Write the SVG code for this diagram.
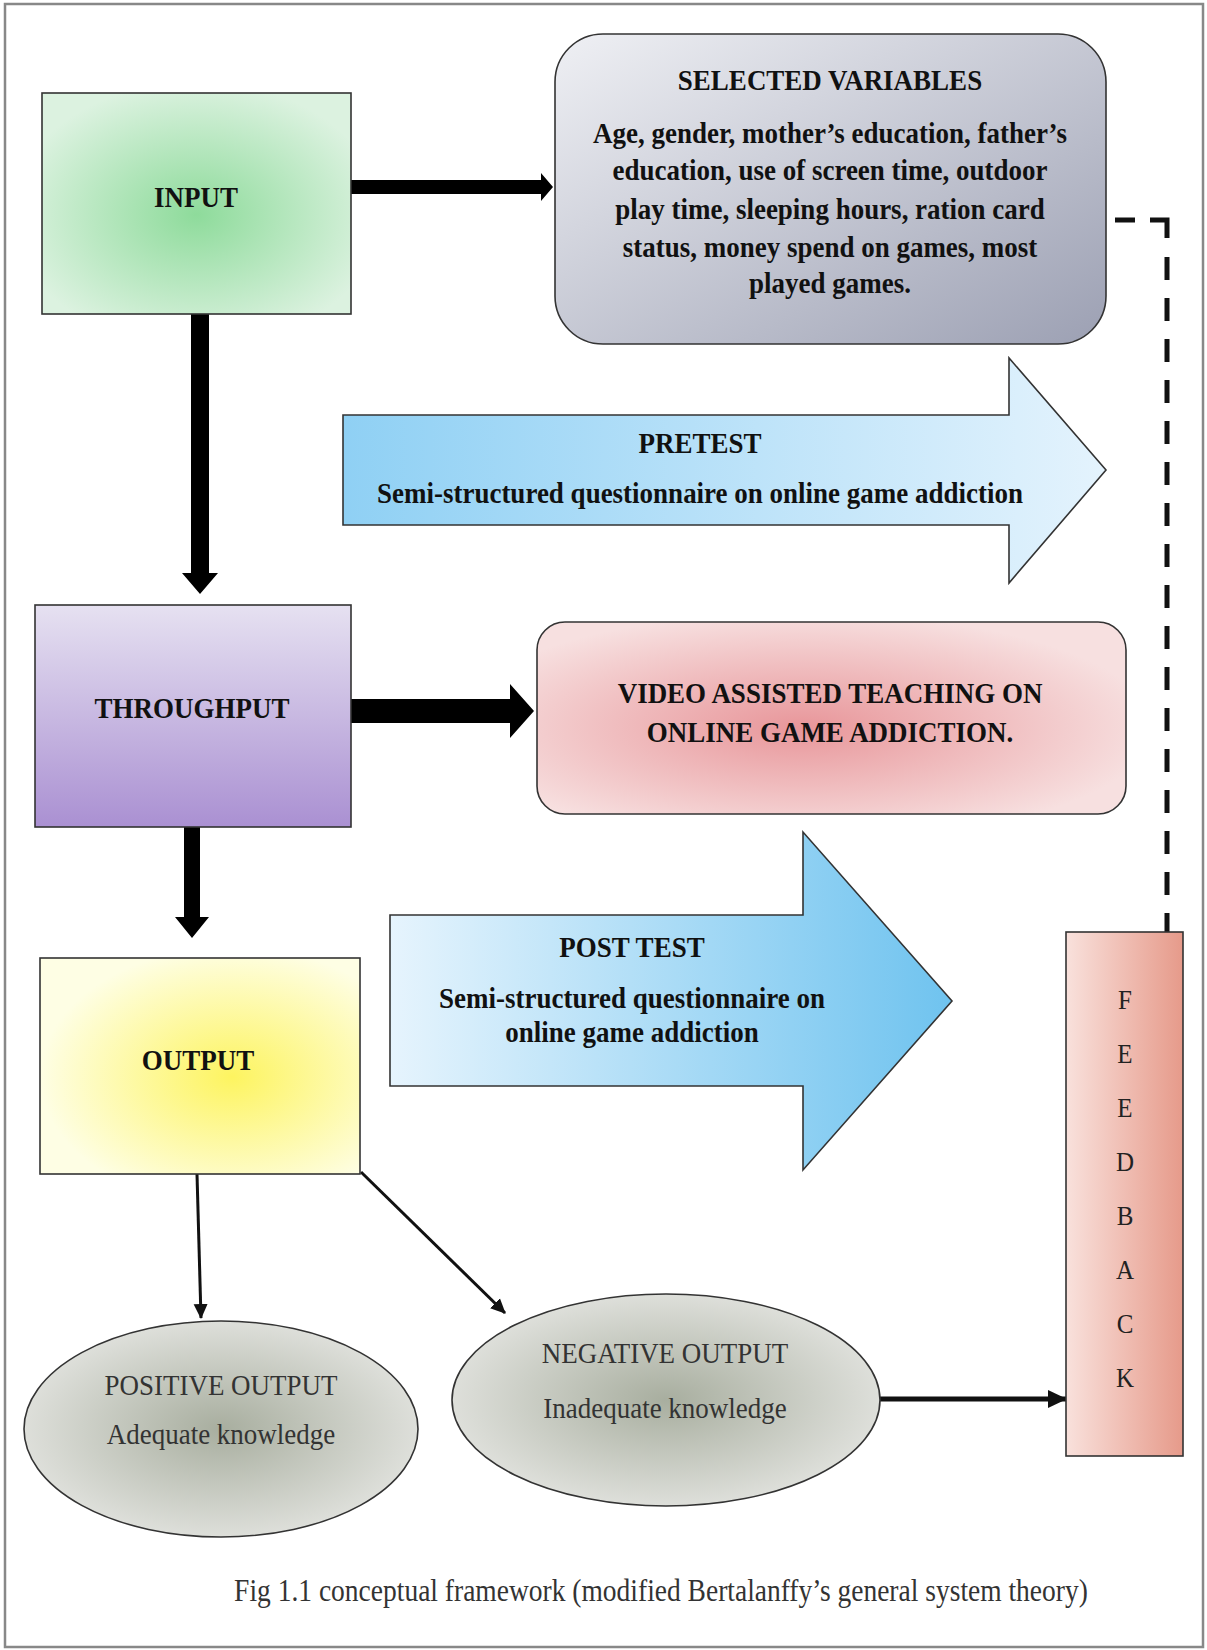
<svg xmlns="http://www.w3.org/2000/svg" width="1207" height="1650" viewBox="0 0 1207 1650">
<style>
.b{font-family:"Liberation Serif","Times New Roman",serif;font-weight:bold;font-size:27px;fill:#111;text-anchor:middle}
.r{font-family:"Liberation Serif","Times New Roman",serif;font-size:27px;fill:#333;text-anchor:middle}
.c{font-family:"Liberation Serif","Times New Roman",serif;font-size:27.5px;fill:#333;text-anchor:middle}
.f{font-family:"Liberation Serif","Times New Roman",serif;font-size:25px;fill:#222;text-anchor:middle}
.box{stroke:#333;stroke-width:1.6}
.thin{stroke:#111;stroke-width:3;fill:none}
.dash{stroke:#111;stroke-width:5;fill:none}
</style>
<defs>
<radialGradient id="gIn" cx="0.5" cy="0.55" r="0.6"><stop offset="0" stop-color="#8edb9b"/><stop offset="1" stop-color="#dcf2e0"/></radialGradient>
<linearGradient id="gSel" x1="0" y1="0" x2="1" y2="1"><stop offset="0" stop-color="#eff0f4"/><stop offset="1" stop-color="#9ca0b3"/></linearGradient>
<linearGradient id="gThr" x1="0" y1="0" x2="0" y2="1"><stop offset="0" stop-color="#e6e1f1"/><stop offset="1" stop-color="#aa90d2"/></linearGradient>
<radialGradient id="gVid" cx="0.45" cy="0.55" r="0.6"><stop offset="0" stop-color="#e8969a"/><stop offset="1" stop-color="#f7e0e0"/></radialGradient>
<radialGradient id="gOut" cx="0.6" cy="0.55" r="0.6"><stop offset="0" stop-color="#fdf460"/><stop offset="1" stop-color="#fefee4"/></radialGradient>
<linearGradient id="gPre" x1="0" y1="0" x2="1" y2="0"><stop offset="0" stop-color="#8fd0f4"/><stop offset="1" stop-color="#e4f3fd"/></linearGradient>
<linearGradient id="gPost" x1="0" y1="0" x2="1" y2="0"><stop offset="0" stop-color="#e6f4fd"/><stop offset="1" stop-color="#6fc3ef"/></linearGradient>
<radialGradient id="gEll" cx="0.5" cy="0.5" r="0.55"><stop offset="0" stop-color="#a8ae9f"/><stop offset="1" stop-color="#e3e4e0"/></radialGradient>
<linearGradient id="gFb" x1="0" y1="0" x2="1" y2="0"><stop offset="0" stop-color="#f9e1dc"/><stop offset="1" stop-color="#e69a8a"/></linearGradient>
<marker id="ah" markerUnits="userSpaceOnUse" markerWidth="16" markerHeight="16" refX="14" refY="8" orient="auto"><path d="M0,1 L15,8 L0,15 Z" fill="#111"/></marker>
<marker id="ah2" markerUnits="userSpaceOnUse" markerWidth="20" markerHeight="20" refX="18" refY="10" orient="auto"><path d="M0,1 L19,10 L0,19 Z" fill="#111"/></marker>
</defs>
<rect x="0" y="0" width="1207" height="1650" fill="#fff"/>
<rect x="5" y="4" width="1198" height="1643" fill="none" stroke="#888" stroke-width="2.5"/>

<g id="connectors">
<polygon points="351,180 541,180 541,173 553,187 541,201 541,194 351,194" fill="#000"/>
<polygon points="191,314 209,314 209,573 218,573 200,594 182,573 191,573" fill="#000"/>
<polygon points="351,699 510,699 510,684 534,711 510,738 510,723 351,723" fill="#000"/>
<polygon points="184,827 200,827 200,917 209,917 192,938 175,917 184,917" fill="#000"/>
<line class="thin" x1="197" y1="1174" x2="201" y2="1318" marker-end="url(#ah)"/>
<line class="thin" x1="361" y1="1172" x2="505" y2="1313" marker-end="url(#ah)"/>
<line x1="880" y1="1399" x2="1066" y2="1399" stroke="#111" stroke-width="5" marker-end="url(#ah2)"/>
<path class="dash" d="M1115,220 H1135"/>
<path class="dash" d="M1150,220 H1167 V238"/>
<path class="dash" d="M1167,257 V932" stroke-dasharray="23 18"/>
</g>

<g id="input">
<rect class="box" x="42" y="93" width="309" height="221" fill="url(#gIn)"/>
<text class="b" transform="translate(196,207) scale(1,1.12)">INPUT</text>
</g>

<g id="selected-variables">
<rect class="box" x="555" y="34" width="551" height="310" rx="48" fill="url(#gSel)"/>
<text class="b" transform="translate(830,90) scale(1,1.12)">SELECTED VARIABLES</text>
<text class="b" transform="translate(830,143) scale(1,1.12)">Age, gender, mother’s education, father’s</text>
<text class="b" transform="translate(830,180) scale(1,1.12)">education, use of screen time, outdoor</text>
<text class="b" transform="translate(830,219) scale(1,1.12)">play time, sleeping hours, ration card</text>
<text class="b" transform="translate(830,257) scale(1,1.12)">status, money spend on games, most</text>
<text class="b" transform="translate(830,293) scale(1,1.12)">played games.</text>
</g>

<g id="pretest">
<polygon class="box" points="343,415 1009,415 1009,358 1106,470 1009,583 1009,525 343,525" fill="url(#gPre)"/>
<text class="b" transform="translate(700,453) scale(1,1.12)">PRETEST</text>
<text class="b" transform="translate(700,503) scale(1,1.12)">Semi-structured questionnaire on online game addiction</text>
</g>

<g id="throughput">
<rect class="box" x="35" y="605" width="316" height="222" fill="url(#gThr)"/>
<text class="b" transform="translate(192,718) scale(1,1.12)">THROUGHPUT</text>
</g>

<g id="video">
<rect class="box" x="537" y="622" width="589" height="192" rx="28" fill="url(#gVid)"/>
<text class="b" transform="translate(830,703) scale(1,1.12)">VIDEO ASSISTED TEACHING ON</text>
<text class="b" transform="translate(830,742) scale(1,1.12)">ONLINE GAME ADDICTION.</text>
</g>

<g id="posttest">
<polygon class="box" points="390,915 803,915 803,832 952,1001 803,1170 803,1086 390,1086" fill="url(#gPost)"/>
<text class="b" transform="translate(632,957) scale(1,1.12)">POST TEST</text>
<text class="b" transform="translate(632,1008) scale(1,1.12)">Semi-structured questionnaire on</text>
<text class="b" transform="translate(632,1042) scale(1,1.12)">online game addiction</text>
</g>

<g id="output">
<rect class="box" x="40" y="958" width="320" height="216" fill="url(#gOut)"/>
<text class="b" transform="translate(198,1070) scale(1,1.12)">OUTPUT</text>
</g>

<g id="positive-output">
<ellipse class="box" cx="221" cy="1429" rx="197" ry="108" fill="url(#gEll)"/>
<text class="r" transform="translate(221,1395) scale(1,1.12)">POSITIVE OUTPUT</text>
<text class="r" transform="translate(221,1444) scale(1,1.12)">Adequate knowledge</text>
</g>

<g id="negative-output">
<ellipse class="box" cx="666" cy="1400" rx="214" ry="106" fill="url(#gEll)"/>
<text class="r" transform="translate(665,1363) scale(1,1.12)">NEGATIVE OUTPUT</text>
<text class="r" transform="translate(665,1418) scale(1,1.12)">Inadequate knowledge</text>
</g>

<g id="feedback">
<rect class="box" x="1066" y="932" width="117" height="524" fill="url(#gFb)"/>
<text class="f" transform="translate(1125,1009) scale(1,1.1)">F</text>
<text class="f" transform="translate(1125,1063) scale(1,1.1)">E</text>
<text class="f" transform="translate(1125,1117) scale(1,1.1)">E</text>
<text class="f" transform="translate(1125,1171) scale(1,1.1)">D</text>
<text class="f" transform="translate(1125,1225) scale(1,1.1)">B</text>
<text class="f" transform="translate(1125,1279) scale(1,1.1)">A</text>
<text class="f" transform="translate(1125,1333) scale(1,1.1)">C</text>
<text class="f" transform="translate(1125,1387) scale(1,1.1)">K</text>
</g>

<text class="c" transform="translate(661,1601) scale(1,1.12)">Fig 1.1 conceptual framework (modified Bertalanffy’s general system theory)</text>
</svg>
